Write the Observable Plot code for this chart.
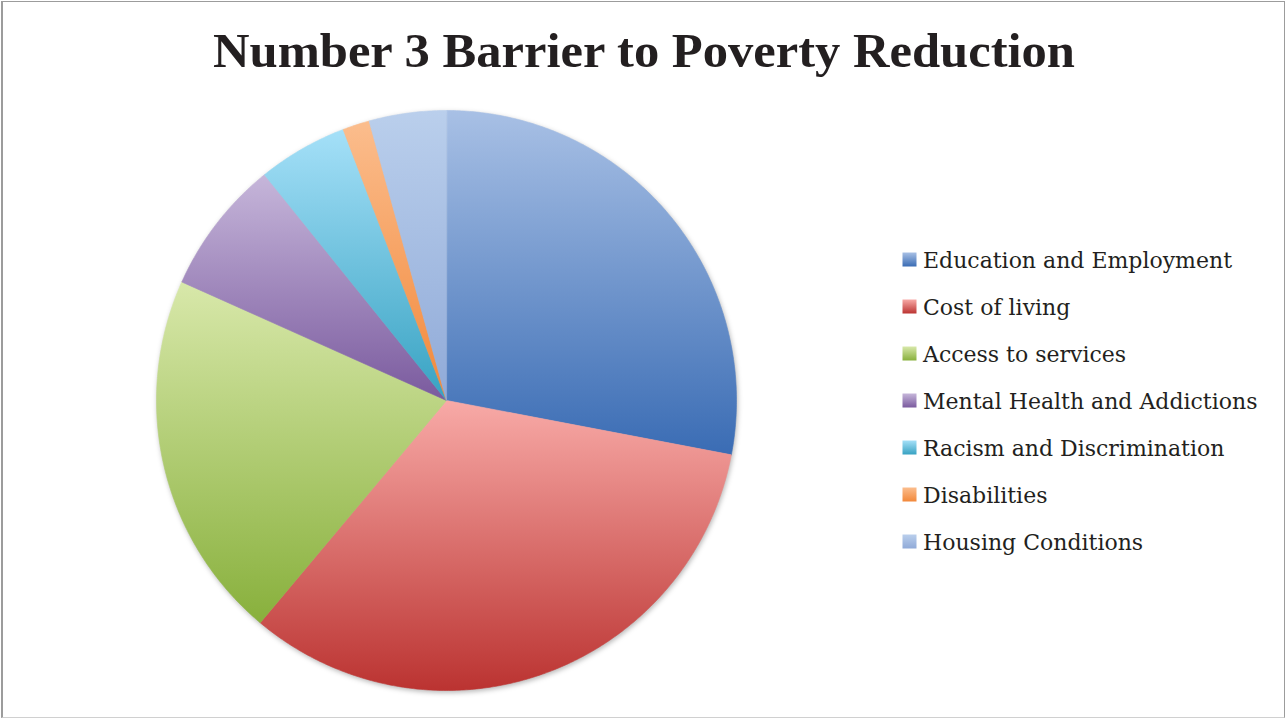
<!DOCTYPE html>
<html>
<head>
<meta charset="utf-8">
<script src="https://cdn.jsdelivr.net/npm/d3@7"></script>
<script src="https://cdn.jsdelivr.net/npm/@observablehq/plot@0.6"></script>
<style>
  html, body { margin: 0; padding: 0; background: #fff; }
  #chart { position: relative; width: 1286px; height: 719px; overflow: hidden; background: #fff; }
  #frame { position: absolute; left: 1px; top: 1px; width: 1284px; height: 717px; box-sizing: border-box;
           border: 1px solid #9c9c9c; border-left: 2px solid #9c9c9c; border-bottom-color: #d0d0d0; }
  #pie { position: absolute; left: 146px; top: 100px; }
  #overlay { position: absolute; left: 0; top: 0; pointer-events: none; }
</style>
</head>
<body>
<div id="chart"><div id="frame"></div><div id="pie"></div></div>
<script>
const title = "Number 3 Barrier to Poverty Reduction";
const categories = [
  "Education and Employment",
  "Cost of living",
  "Access to services",
  "Mental Health and Addictions",
  "Racism and Discrimination",
  "Disabilities",
  "Housing Conditions"
];
const shares = [28.0, 33.1, 20.6, 7.5, 5.0, 1.5, 4.3];
const lightColors = ["#a8c0e5", "#f8aaa7", "#d8e8aa", "#c6b6da", "#a5e0f8", "#fbbd8d", "#bacfec"];
const darkColors  = ["#3a6cb4", "#bb3331", "#88b03c", "#7a5a9e", "#37a2c2", "#f2883a", "#90aad8"];

// pie geometry from the data (angles clockwise from 12 o'clock)
const arcs = d3.pie().sort(null).value(d => d)(shares);
const points = [];
arcs.forEach((a, i) => {
  const name = categories[i];
  points.push({name, x: 0, y: 0});
  const n = Math.max(2, Math.ceil((a.endAngle - a.startAngle) / (Math.PI / 360)));
  for (let k = 0; k <= n; k++) {
    const t = a.startAngle + (a.endAngle - a.startAngle) * k / n;
    points.push({name, x: Math.sin(t), y: Math.cos(t)});
  }
});

const gradIds = categories.map((_, i) => `grad${i}`);

const pie = Plot.plot({
  width: 600,
  height: 600,
  margin: 10,
  style: {background: "transparent", overflow: "visible", filter: "drop-shadow(1px 2px 2.5px rgba(0,0,0,0.28))"},
  x: {domain: [-1, 1], axis: null},
  y: {domain: [-1, 1], axis: null},
  color: {domain: categories, range: gradIds.map(id => `url(#${id})`)},
  marks: [
    Plot.line(points, {x: "x", y: "y", z: "name", fill: "name", stroke: "name", strokeWidth: 0.6, curve: "linear-closed"})
  ]
});
document.getElementById("pie").appendChild(pie);

// overlay: gradient defs, title and legend
const overlay = d3.select("#chart").append("svg")
  .attr("id", "overlay").attr("width", 1286).attr("height", 719);
const defs = overlay.append("defs");
categories.forEach((_, i) => {
  const g = defs.append("linearGradient").attr("id", gradIds[i])
    .attr("x1", 0).attr("y1", 0).attr("x2", 0).attr("y2", 1);
  g.append("stop").attr("offset", "0%").attr("stop-color", lightColors[i]);
  g.append("stop").attr("offset", "100%").attr("stop-color", darkColors[i]);
});

overlay.append("text")
  .attr("x", 644).attr("y", 67)
  .attr("text-anchor", "middle")
  .attr("font-family", "'Liberation Serif', 'DejaVu Serif', serif")
  .attr("font-weight", "bold")
  .attr("font-size", 49)
  .attr("fill", "#231f20")
  .attr("textLength", 862)
  .attr("lengthAdjust", "spacingAndGlyphs")
  .text(title);

const legend = overlay.append("g");
categories.forEach((name, i) => {
  const y0 = 268 + 47 * i;
  legend.append("rect")
    .attr("x", 902.5).attr("y", y0 - 15.5).attr("width", 14).attr("height", 14)
    .attr("fill", `url(#${gradIds[i]})`);
  legend.append("text")
    .attr("x", 923).attr("y", y0)
    .attr("font-family", "'DejaVu Serif', serif")
    .attr("font-size", 22)
    .attr("fill", "#231f20")
    .text(name);
});
</script>
</body>
</html>
